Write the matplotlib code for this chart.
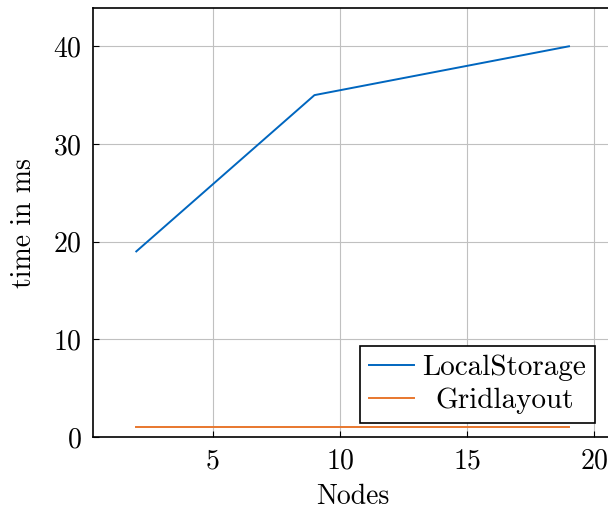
import matplotlib.pyplot as plt
from matplotlib.transforms import ScaledTranslation

plt.rcParams['font.family'] = 'cmr10'
plt.rcParams['mathtext.fontset'] = 'cm'
plt.rcParams['axes.formatter.use_mathtext'] = True

nodes = [2, 9, 19]
local_storage = [19, 35, 40]
grid_layout = [1, 1, 1]

fig = plt.figure(figsize=(6.08, 5.12), dpi=100)
ax = fig.add_axes([0.153, 0.1465, 0.854, 0.8375])

ax.plot(nodes, local_storage, color='#0066bf', lw=1.4, label='LocalStorage')
ax.plot(nodes, grid_layout, color='#e8772e', lw=1.4, label='Gridlayout')

ax.set_xlim(0.3, 20.7)
ax.set_ylim(0, 43.9)
ax.set_xticks([5, 10, 15, 20])
ax.set_yticks([0, 10, 20, 30, 40])
ax.grid(True, color='#c0c0c0', lw=0.8)
ax.set_axisbelow(True)
ax.tick_params(direction='in', length=4, labelsize=20, width=0.8, pad=8)
for s in ax.spines.values():
    s.set_linewidth(1.2)

ax.set_xlabel('Nodes', fontsize=20, labelpad=7)
ax.set_ylabel('time in ms', fontsize=20, labelpad=12)

leg = ax.legend(loc='lower right', bbox_to_anchor=(0.967, 0.033), fontsize=21,
                fancybox=False, framealpha=1, edgecolor='black',
                handlelength=1.55, handletextpad=0.3, borderpad=0.3,
                labelspacing=0.22, borderaxespad=0)
leg.get_frame().set_linewidth(1.2)

# centre the legend labels like pgfplots does
fig.canvas.draw()
r = fig.canvas.get_renderer()
texts = leg.get_texts()
wmax = max(t.get_window_extent(r).width for t in texts)
for t in texts:
    dx = (wmax - t.get_window_extent(r).width) / 2 / fig.dpi
    t.set_transform(t.get_transform() + ScaledTranslation(dx, 0, fig.dpi_scale_trans))

fig.savefig('out.png')
